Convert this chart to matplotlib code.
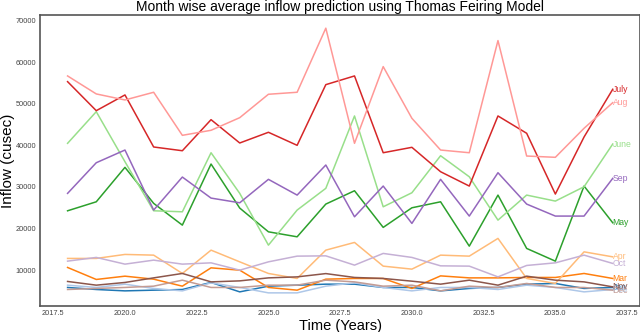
import matplotlib
matplotlib.use('Agg')
import matplotlib.pyplot as plt

plt.rcParams['font.family'] = ['Liberation Sans', 'DejaVu Sans']

years = list(range(2018, 2038))

# month-wise predicted inflow (cusec)
jan = [5870, 5380, 5050, 5220, 5380, 7070, 4810, 6180, 6420, 6660,
       6660, 5870, 5870, 5050, 5630, 5870, 6660, 6830, 5630, 5870]
feb = [6420, 5870, 6660, 5630, 5050, 6970, 5870, 4570, 4570, 6180,
       6970, 5870, 5050, 5870, 5870, 5380, 6420, 5870, 4810, 5380]
mar = [10670, 7790, 8580, 7860, 6180, 10580, 10020, 5870, 5220, 7860,
       8030, 8030, 5630, 8650, 8170, 8170, 8270, 8270, 9230, 8030]
apr = [12840, 12840, 13800, 13630, 9230, 14830, 12020, 9230, 8030, 14830,
       16680, 10990, 10270, 13630, 13390, 17650, 8030, 6830, 14420, 13220]
may = [24280, 26440, 34710, 26060, 20840, 35510, 24930, 19230, 18030, 25890,
       29090, 20290, 25000, 26440, 15790, 28050, 15240, 12190, 30220, 21400]
june = [40480, 48080, 36060, 24280, 24040, 38220, 28460, 16030, 24450, 29670,
        47050, 25240, 28610, 37500, 32450, 22040, 28050, 26610, 30050, 40310]
july = [55290, 48320, 52100, 39600, 38700, 46160, 40560, 43130, 40000, 54570,
        56660, 38220, 39520, 33660, 30220, 47050, 42890, 28300, 42000, 53460]
aug = [56660, 52340, 50890, 52740, 42400, 43610, 46640, 52260, 52740, 68130,
       40480, 58900, 46490, 38870, 38220, 65150, 37430, 37120, 44090, 50240]
sep = [28460, 35820, 38870, 24450, 32380, 27330, 26200, 31830, 28050, 35270,
       22840, 30220, 21250, 31830, 23010, 33420, 25890, 23010, 23010, 32070]
octo = [12190, 13080, 11470, 12430, 11470, 11780, 10020, 12020, 13390, 13460,
        11230, 14040, 13080, 11060, 10990, 8410, 11150, 11780, 13630, 11640]
nov = [7310, 6420, 7070, 8170, 9230, 7210, 7450, 8170, 8410, 9200,
       8270, 8030, 7380, 6660, 7620, 6420, 8580, 7620, 7210, 6010]
dec = [5380, 5630, 5870, 6180, 7620, 5870, 5870, 6420, 6420, 7620,
       7210, 6180, 6420, 5050, 6180, 5870, 6830, 5870, 5870, 5220]

months = ['Jan', 'Feb', 'Mar', 'Apr', 'May', 'June', 'July', 'Aug', 'Sep', 'Oct', 'Nov', 'Dec']
series = [jan, feb, mar, apr, may, june, july, aug, sep, octo, nov, dec]

cmap = plt.get_cmap('tab20')

fig = plt.figure(figsize=(6.4, 3.32), dpi=100)
ax = fig.add_axes([0.063, 0.078, 0.937, 0.877])

for i in range(len(months)):
    c = cmap(i)
    ax.plot(years, series[i], color=c, linewidth=1.1)
    # month name written at the end of each line
    ax.text(years[-1], series[i][-1], months[i], color=c, fontsize=6.2,
            ha='left', va='center')

ax.set_title('Month wise average inflow prediction using Thomas Feiring Model', fontsize=10, pad=3)
ax.set_xlabel('Time (Years)', fontsize=10.5)
ax.set_ylabel('Inflow (cusec)', fontsize=11)
ax.xaxis.set_label_coords(0.5, -0.043)
ax.yaxis.set_label_coords(-0.043, 0.5)
ax.tick_params(labelsize=5.3, length=0, pad=3, colors='#444444')
for s in ax.spines.values():
    s.set_color('#555555')
    s.set_linewidth(1.2)

fig.savefig('out.png', dpi=100)
